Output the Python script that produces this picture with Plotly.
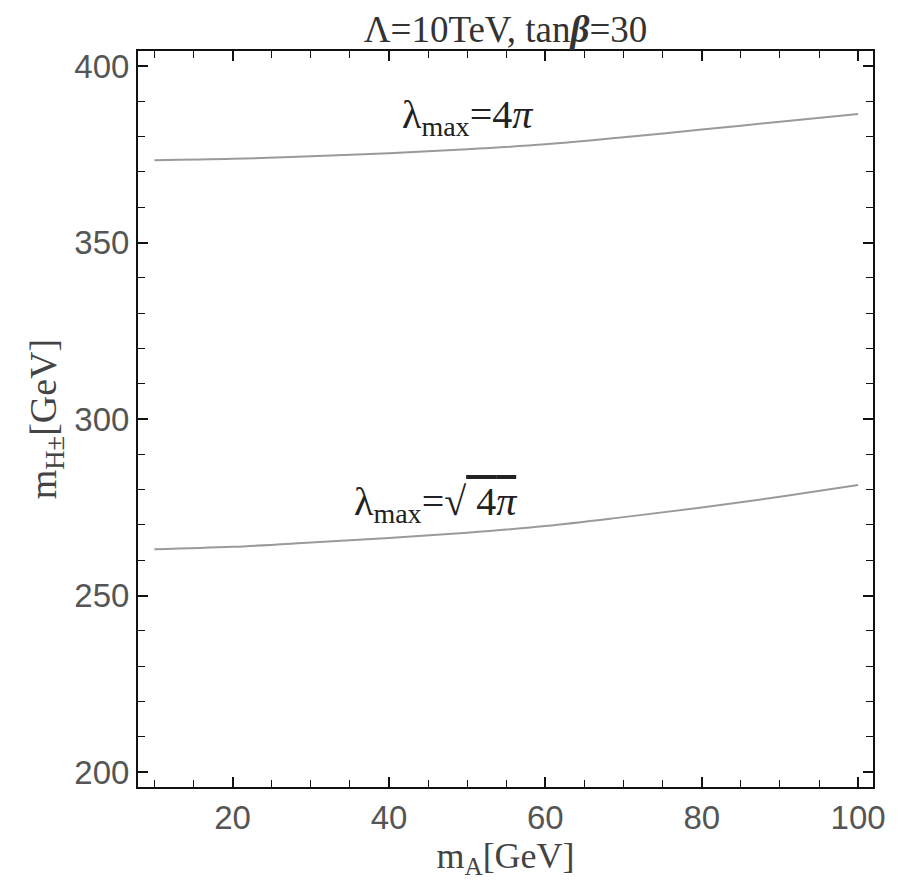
import plotly.graph_objects as go

# data
m_A = [10, 20, 30, 40, 50, 60, 70, 80, 90, 100]
mH_4pi = [373.3, 373.7, 374.4, 375.3, 376.4, 377.8, 379.8, 382.0, 384.2, 386.4]
mH_sqrt4pi = [263.1, 263.8, 265.0, 266.3, 267.8, 269.7, 272.2, 274.9, 278.0, 281.3]

x_ticks = [20, 40, 60, 80, 100]
y_ticks = [200, 250, 300, 350, 400]

label_4pi = "λ<sub>max</sub>=4<i>π</i>"
label_sqrt = "λ<sub>max</sub>=√<span style='text-decoration:overline'> 4<i>π</i></span>"
title_text = "Λ=10TeV, tan<b><i>β</i></b>=30"

serif = "Liberation Serif, Times New Roman, serif"
sans = "Liberation Sans, Arial, sans-serif"
line_col = "#9a9a9a"

fig = go.Figure()
fig.add_trace(go.Scatter(x=m_A, y=mH_4pi, mode="lines", line=dict(color=line_col, width=2, shape="spline"), showlegend=False))
fig.add_trace(go.Scatter(x=m_A, y=mH_sqrt4pi, mode="lines", line=dict(color=line_col, width=2, shape="spline"), showlegend=False))

fig.add_annotation(x=50, y=385.5, text=label_4pi, showarrow=False, xanchor="center", yanchor="middle",
                   font=dict(family=serif, size=40, color="#222"))
fig.add_annotation(x=46, y=276.0, text=label_sqrt, showarrow=False, xanchor="center", yanchor="middle",
                   font=dict(family=serif, size=40, color="#222"))

axis_common = dict(
    showline=True, linecolor="#111", linewidth=2, mirror="ticks",
    ticks="inside", ticklen=10, tickwidth=1.5, tickcolor="#111",
    showgrid=False, zeroline=False, automargin=False,
    tickfont=dict(family=sans, size=33, color="#555"),
)

fig.update_xaxes(range=[7.9, 101.9], tickvals=x_ticks,
                 minor=dict(dtick=5, ticks="inside", ticklen=7, tickwidth=1.2, tickcolor="#111"),
                 title=dict(text="m<sub>A</sub>[GeV]", font=dict(family=serif, size=36, color="#444"), standoff=6),
                 **axis_common)
fig.update_yaxes(range=[195.75, 404.25], tickvals=y_ticks,
                 minor=dict(dtick=10, ticks="inside", ticklen=7, tickwidth=1.2, tickcolor="#111"),
                 title=dict(text="m<sub>H±</sub>[GeV]", font=dict(family=serif, size=38, color="#444"), standoff=6),
                 **axis_common)

fig.update_layout(
    width=895, height=877,
    margin=dict(l=130, r=30, t=43, b=98),
    plot_bgcolor="white", paper_bgcolor="white",
    title=dict(text=title_text, xref="paper", x=0.5, xanchor="center", yref="container", y=0.976, yanchor="middle",
               font=dict(family=serif, size=37, color="#333")),
)

fig.write_html("out.html")
